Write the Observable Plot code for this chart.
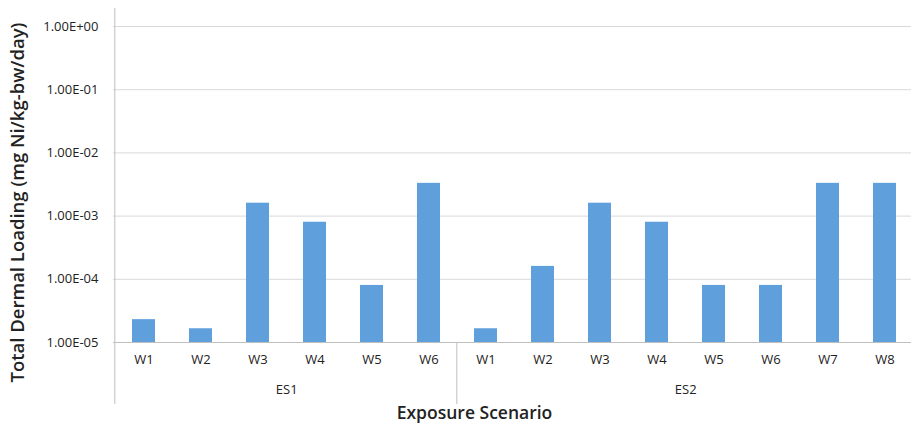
<!DOCTYPE html>
<html>
<head>
<meta charset="utf-8">
<script src="https://cdn.jsdelivr.net/npm/d3@7"></script>
<script src="https://cdn.jsdelivr.net/npm/@observablehq/plot@0.6"></script>
<style>
  html, body { margin: 0; padding: 0; background: #fff; }
  #chart svg { display: block; }
</style>
</head>
<body>
<div id="chart"></div>
<script>
// ---- data ----
const groupNames = ["ES1", "ES2"];
const es1Labels = ["W1", "W2", "W3", "W4", "W5", "W6"];
const es1Values = [2.3e-5, 1.65e-5, 1.6e-3, 8.0e-4, 8.0e-5, 3.3e-3];
const es2Labels = ["W1", "W2", "W3", "W4", "W5", "W6", "W7", "W8"];
const es2Values = [1.65e-5, 1.6e-4, 1.6e-3, 8.0e-4, 8.0e-5, 8.0e-5, 3.3e-3, 3.3e-3];
const yTicks = [1e-5, 1e-4, 1e-3, 1e-2, 1e-1, 1];
const yTitle = "Total Dermal Loading (mg Ni/kg-bw/day)";
const xTitle = "Exposure Scenario";

// ---- build table ----
const rows = [];
es1Labels.forEach((l, i) => rows.push({group: "ES1", label: l, key: "ES1|" + l, value: es1Values[i]}));
es2Labels.forEach((l, i) => rows.push({group: "ES2", label: l, key: "ES2|" + l, value: es2Values[i]}));
const keys = rows.map(d => d.key);

// group label anchored at the key left of the group's centre
const groups = groupNames.map(g => {
  const members = rows.filter(d => d.group === g);
  return {name: g, mid: members[Math.floor(members.length / 2) - 1].key, first: members[0].key};
});

const fmt = d => {
  const [m, e] = d.toExponential(2).split("e");
  const n = +e;
  return m + "E" + (n < 0 ? "-" : "+") + String(Math.abs(n)).padStart(2, "0");
};

const W = 911, H = 433;
const xRange = [113, 916];
const step = (xRange[1] - xRange[0]) / keys.length;
const font = "'Open Sans', 'Noto Sans', sans-serif";

const plot = Plot.plot({
  width: W,
  height: H,
  marginLeft: 113,
  marginRight: 0,
  marginTop: 26,
  marginBottom: 91,
  style: {fontFamily: font, background: "#fff", color: "#222"},
  x: {type: "band", domain: keys, range: xRange, paddingInner: 0.59, paddingOuter: 0.295, axis: null},
  y: {type: "log", domain: [1e-5, 1], axis: null},
  marks: [
    Plot.gridY(yTicks.slice(1), {stroke: "#d9d9d9", strokeOpacity: 1, strokeWidth: 1}),
    Plot.barY(rows, {x: "key", y1: 1e-5, y2: "value", fill: "#5fa0dc"}),
    Plot.ruleY([1e-5], {stroke: "#bfbfbf", strokeWidth: 1}),
    Plot.axisY(yTicks, {tickSize: 0, tickPadding: 15, tickFormat: fmt, fontSize: 13, label: null, fill: "#222"}),
    Plot.text(rows, {x: "key", text: "label", frameAnchor: "bottom", dy: 21, fontSize: 13, fill: "#222"}),
    Plot.text(groups, {x: "mid", text: "name", frameAnchor: "bottom", dx: step / 2, dy: 51, fontSize: 13, fill: "#222"}),
    Plot.text([yTitle], {text: d => d, frameAnchor: "left", textAnchor: "middle", rotate: -90, dx: -95, dy: 18, fontSize: 18.5, fontWeight: 600, fill: "#222"}),
    Plot.text([xTitle], {text: d => d, frameAnchor: "bottom", dx: -38, dy: 76, fontSize: 17.5, fontWeight: 600, fill: "#222"})
  ]
});

// category-axis dividers and left axis line, positioned from Plot's x scale
const xs = plot.scale("x");
const svg = d3.select(plot);
const boundary = k => xs.apply(k) + xs.bandwidth / 2 - step / 2;
const yBase = plot.scale("y").apply(1e-5);
const yTop = plot.scale("y").apply(1);
groups.forEach((g, i) => {
  svg.append("line")
    .attr("x1", boundary(g.first)).attr("x2", boundary(g.first))
    .attr("y1", i === 0 ? yTop - 18 : yBase).attr("y2", yBase + 62)
    .attr("stroke", "#bfbfbf").attr("stroke-width", 1);
});

document.getElementById("chart").appendChild(plot);
</script>
</body>
</html>
